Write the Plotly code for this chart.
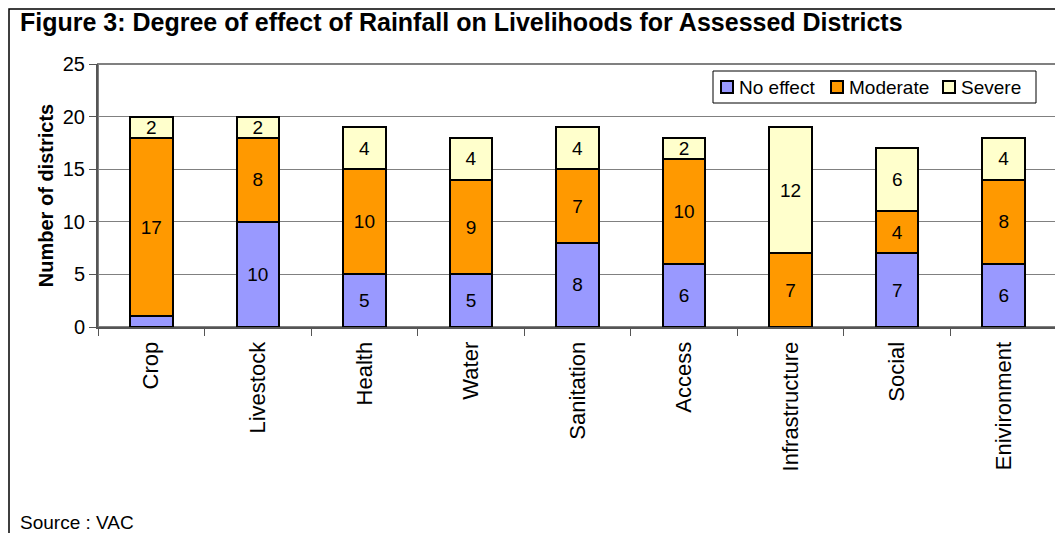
import plotly.graph_objects as go

categories = ["Crop", "Livestock", "Health", "Water", "Sanitation",
              "Access", "Infrastructure", "Social", "Enivironment"]
no_effect = [1, 10, 5, 5, 8, 6, 0, 7, 6]
moderate = [17, 8, 10, 9, 7, 10, 7, 4, 8]
severe = [2, 2, 4, 4, 4, 2, 12, 6, 4]

# the page puts the figure 8px in from the window corner
OFF = 8
W, H = 1063 - OFF, 533 - OFF
L, T, R, B = 98 - OFF, 64 - OFF, 6, 206
pw, ph = W - L - R, H - T - B

def px(x):
    # window pixel -> paper x
    return (x - OFF - L) / pw

def py(y):
    # window pixel -> paper y
    return 1 - (y - OFF - T) / ph

def labels(vals):
    # tiny segments carry no visible label in the original
    return [str(v) if v >= 2 else "" for v in vals]

fig = go.Figure()
series = [("No effect", no_effect, "#9999FF"),
          ("Moderate", moderate, "#FF9900"),
          ("Severe", severe, "#FFFFCC")]
for name, vals, col in series:
    fig.add_trace(go.Bar(
        x=categories, y=vals, name=name,
        marker=dict(color=col, line=dict(color="black", width=2)),
        text=labels(vals), textposition="inside", insidetextanchor="middle",
        textangle=0, textfont=dict(size=19, color="black"),
        constraintext="none", cliponaxis=False, showlegend=False,
    ))

fig.update_layout(
    barmode="stack", bargap=0.6,
    width=W, height=H,
    margin=dict(l=L, r=R, t=T, b=B, autoexpand=False),
    paper_bgcolor="white", plot_bgcolor="white",
    font=dict(family="Liberation Sans, Arial, sans-serif", size=20, color="black"),
    title=dict(text="<b>Figure 3: Degree of effect of Rainfall on Livelihoods for Assessed Districts</b>",
               xref="container", yref="container", x=(20 - OFF) / W, y=1 - (22 - OFF) / H,
               xanchor="left", yanchor="middle", font=dict(size=25)),
    uniformtext=dict(mode="show", minsize=10),
)

fig.update_xaxes(type="category", tickangle=-90, showgrid=False, automargin=False,
                 ticks="outside", tickson="boundaries", ticklen=7,
                 tickcolor="#555555", showline=True, linecolor="#555555",
                 linewidth=2, tickfont=dict(size=22), ticklabelstandoff=4)
fig.update_yaxes(range=[0, 25], dtick=5, showgrid=True, gridcolor="#808080",
                 gridwidth=1, ticks="outside", ticklen=7, tickcolor="#555555",
                 showline=True, linecolor="#555555", linewidth=2, automargin=False,
                 zeroline=False, tickfont=dict(size=20),
                 title=dict(text="<b>Number of districts</b>", font=dict(size=20),
                            standoff=4))

# plot-area border (top and right)
fig.add_shape(type="rect", xref="paper", yref="paper", x0=0, y0=0, x1=1, y1=1,
              line=dict(color="#808080", width=2), layer="below")
# outer frame of the figure
fig.add_shape(type="rect", xref="paper", yref="paper",
              x0=px(OFF + 1), y0=py(560), x1=px(1090), y1=py(OFF + 1),
              line=dict(color="black", width=1.5))

# legend box drawn by hand to match the compact original
fig.add_shape(type="rect", xref="paper", yref="paper",
              x0=px(713), y0=py(103), x1=px(1036), y1=py(71),
              fillcolor="white", line=dict(color="black", width=1))
legend_x = [721, 831, 943]
for (name, _, col), lx in zip(series, legend_x):
    fig.add_shape(type="rect", xref="paper", yref="paper",
                  x0=px(lx), y0=py(93), x1=px(lx + 12), y1=py(81),
                  fillcolor=col, line=dict(color="black", width=2))
    fig.add_annotation(text=name, xref="paper", yref="paper",
                       x=px(lx + 16), y=py(87), xanchor="left", yanchor="middle",
                       showarrow=False, font=dict(size=19))

fig.add_annotation(text="Source : VAC", xref="paper", yref="paper",
                   x=px(18), y=py(522), xanchor="left", yanchor="middle",
                   showarrow=False, font=dict(size=19))

fig.write_html("out.html")
